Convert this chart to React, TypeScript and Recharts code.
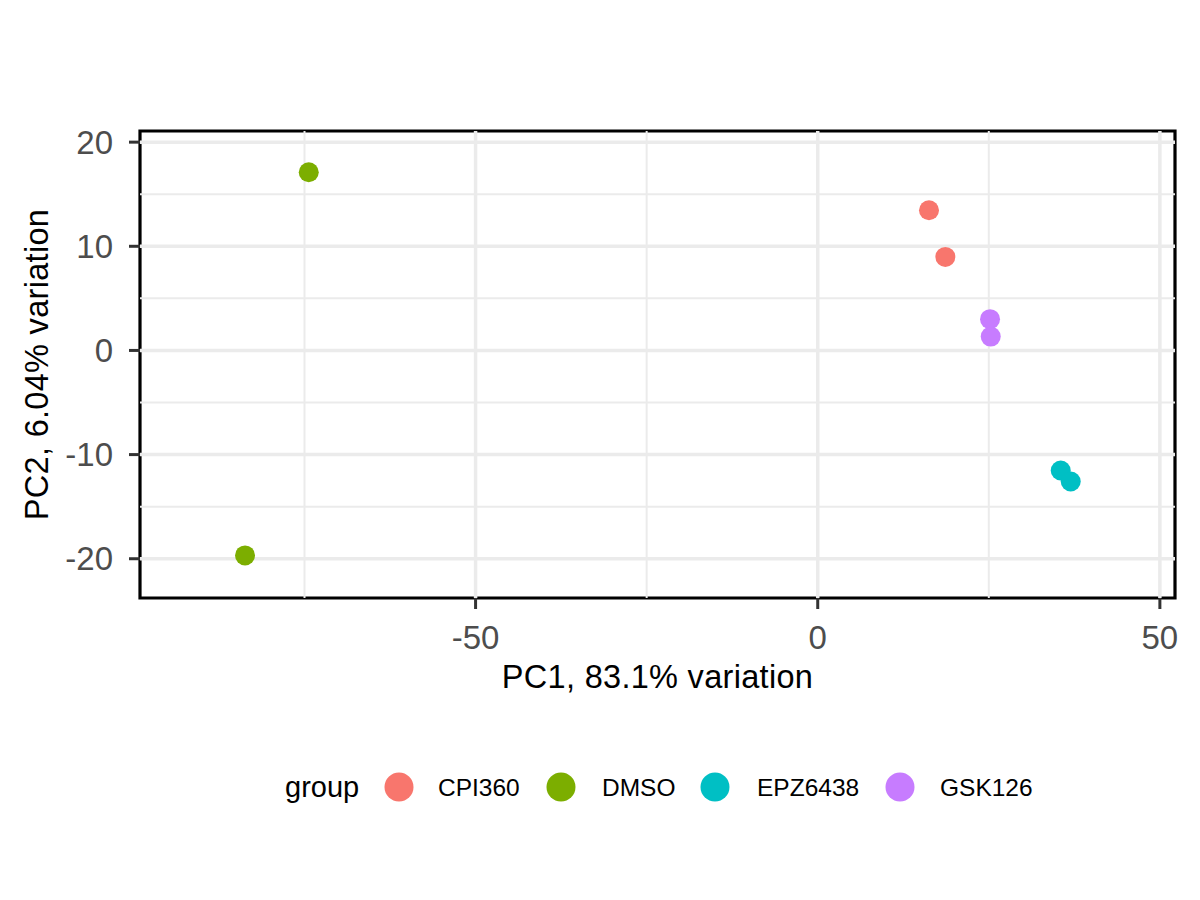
import React from 'react';
import { ScatterChart, Scatter, XAxis, YAxis, ReferenceLine, ReferenceArea, Legend } from 'recharts';

const groups = ['CPI360', 'DMSO', 'EPZ6438', 'GSK126'];
const groupColors = ['#F8766D', '#7CAE00', '#00BFC4', '#C77CFF'];

const cpi360 = [
  { pc1: 16.26, pc2: 13.46 },
  { pc1: 18.65, pc2: 8.98 },
];
const dmso = [
  { pc1: -74.38, pc2: 17.11 },
  { pc1: -83.69, pc2: -19.68 },
];
const epz6438 = [
  { pc1: 35.51, pc2: -11.53 },
  { pc1: 36.97, pc2: -12.58 },
];
const gsk126 = [
  { pc1: 25.18, pc2: 3.0 },
  { pc1: 25.28, pc2: 1.33 },
];
const seriesData = [cpi360, dmso, epz6438, gsk126];

const xTicks = [-50, 0, 50];
const yTicks = [-20, -10, 0, 10, 20];
const xMinor = [-75, -25, 25];
const yMinor = [-15, -5, 5, 15];
const xDomain: [number, number] = [-99.04, 52.21];
const yDomain: [number, number] = [-23.77, 21.07];

const xTitle = 'PC1, 83.1% variation';
const yTitle = 'PC2, 6.04% variation';
const legendTitle = 'group';

const FONT = '"Liberation Sans", Arial, Helvetica, sans-serif';

const legendCircleX = [399, 561, 715, 900];
const legendTextX = [438, 602, 757, 940];

const LegendContent = () => (
  <svg width={1200} height={60} style={{ display: 'block' }}>
    <text x={285} y={30} dominantBaseline="central" fontSize={29} fill="#000" fontFamily={FONT}>
      {legendTitle}
    </text>
    {groups.map((g, i) => (
      <g key={g}>
        <circle cx={legendCircleX[i]} cy={30} r={14.5} fill={groupColors[i]} />
        <text x={legendTextX[i]} y={30} dominantBaseline="central" fontSize={24.5} fill="#000" fontFamily={FONT}>
          {g}
        </text>
      </g>
    ))}
  </svg>
);

const XTitle = (props: any) => {
  const vb = props.viewBox || {};
  return (
    <text x={vb.x + vb.width / 2} y={688} textAnchor="middle" fontSize={32.5} letterSpacing={0.3} fill="#000" fontFamily={FONT}>
      {xTitle}
    </text>
  );
};

const YTitle = (props: any) => {
  const vb = props.viewBox || {};
  const cx = 48;
  const cy = vb.y + vb.height / 2;
  return (
    <text x={cx} y={cy} transform={`rotate(-90, ${cx}, ${cy})`} textAnchor="middle" fontSize={32.5} letterSpacing={0.3} fill="#000" fontFamily={FONT}>
      {yTitle}
    </text>
  );
};

export default function App() {
  return (
    <div style={{ position: 'absolute', left: 0, top: 0, width: 1200, height: 900, background: '#fff', fontFamily: FONT }}>
      <ScatterChart width={1200} height={900} margin={{ top: 131, right: 25, left: 0, bottom: 0 }}>
        <XAxis
          type="number"
          dataKey="pc1"
          domain={xDomain}
          ticks={xTicks}
          allowDataOverflow
          height={302}
          axisLine={false}
          tickSize={11}
          tickMargin={17}
          tickLine={{ stroke: '#333333', strokeWidth: 3 }}
          tick={{ fill: '#4D4D4D', fontSize: 33, fontFamily: FONT }}
          label={<XTitle />}
        />
        <YAxis
          type="number"
          dataKey="pc2"
          domain={yDomain}
          ticks={yTicks}
          allowDataOverflow
          width={140}
          axisLine={false}
          tickSize={11}
          tickMargin={16}
          tickLine={{ stroke: '#333333', strokeWidth: 3 }}
          tick={{ fill: '#4D4D4D', fontSize: 33, fontFamily: FONT }}
          label={<YTitle />}
        />
        {xMinor.map((v) => (
          <ReferenceLine key={`xm${v}`} x={v} stroke="#EBEBEB" strokeWidth={2} />
        ))}
        {yMinor.map((v) => (
          <ReferenceLine key={`ym${v}`} y={v} stroke="#EBEBEB" strokeWidth={2} />
        ))}
        {xTicks.map((v) => (
          <ReferenceLine key={`xM${v}`} x={v} stroke="#EBEBEB" strokeWidth={3.5} />
        ))}
        {yTicks.map((v) => (
          <ReferenceLine key={`yM${v}`} y={v} stroke="#EBEBEB" strokeWidth={3.5} />
        ))}
        {groups.map((g, i) => (
          <Scatter
            key={g}
            name={g}
            data={seriesData[i]}
            fill={groupColors[i]}
            isAnimationActive={false}
            shape={(p: any) => <circle cx={p.cx} cy={p.cy} r={10} fill={groupColors[i]} />}
          />
        ))}
        <ReferenceArea
          x1={xDomain[0]}
          x2={xDomain[1]}
          y1={yDomain[0]}
          y2={yDomain[1]}
          fill="none"
          fillOpacity={0}
          stroke="#000"
          strokeWidth={3.2}
          ifOverflow="visible"
        />
        <Legend
          layout="horizontal"
          verticalAlign="middle"
          align="center"
          content={<LegendContent />}
          wrapperStyle={{ position: 'absolute', top: 757, left: 0, width: 1200, height: 60 }}
        />
      </ScatterChart>
    </div>
  );
}
